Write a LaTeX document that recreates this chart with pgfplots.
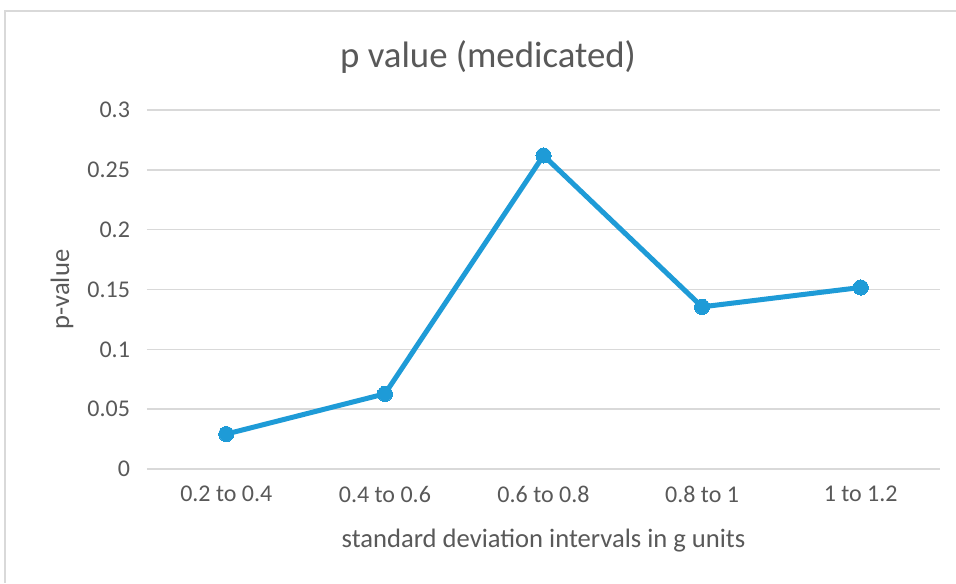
\documentclass[border=0pt]{standalone}
\usepackage{pgfplots}
\pgfplotsset{compat=1.18}
\usepackage{fontspec}
\setmainfont{Carlito}
\definecolor{txt}{HTML}{595959}
\definecolor{grd}{HTML}{D9D9D9}
\definecolor{ser}{RGB}{30,155,215}
\begin{document}
\begin{tikzpicture}
\path[use as bounding box,fill=white] (-73.5pt,-57pt) rectangle (404.5pt,234.5pt);
\draw[grd,line width=0.6pt] (-71pt,-57pt) -- (-71pt,229pt) -- (404.5pt,229pt);
\begin{axis}[
  at={(0,0)}, anchor=south west,
  scale only axis, width=396.5pt, height=179.5pt,
  xmin=-0.5, xmax=4.5, ymin=0, ymax=0.3,
  xtick={0,1,2,3,4},
  xticklabels={0.2 to 0.4,0.4 to 0.6,0.6 to 0.8,0.8 to 1,1 to 1.2},
  ytick={0,0.05,0.1,0.15,0.2,0.25,0.3},
  yticklabels={0,0.05,0.1,0.15,0.2,0.25,0.3},
  axis line style={draw=none},
  tick style={draw=none},
  ymajorgrids, major grid style={grd,line width=0.7pt},
  ticklabel style={font=\fontsize{12}{14}\selectfont, text=txt},
  xticklabel style={yshift=-5pt},
  yticklabel style={xshift=-5pt},
  every axis title shift=0pt,
  title={p value (medicated)},
  title style={at={(axis description cs:0.43,1.1476)},anchor=center,font=\fontsize{18.4}{22}\selectfont,text=txt},
  xlabel={standard deviation intervals in g units},
  xlabel style={at={(axis description cs:0.5,-0.198)},anchor=center,font=\fontsize{13.3}{16}\selectfont,text=txt},
  ylabel={p-value},
  ylabel style={at={(axis description cs:-0.107,0.5)},anchor=center,rotate=0,font=\fontsize{13.3}{16}\selectfont,text=txt},
  clip=false,
]
\addplot[ser, line width=2.5pt, mark=*, mark size=3.8pt, mark options={fill=ser,draw=ser,line width=0pt}] coordinates {
(0,0.0292) (1,0.0628) (2,0.262) (3,0.1355) (4,0.1517)
};
\end{axis}
\end{tikzpicture}
\end{document}
